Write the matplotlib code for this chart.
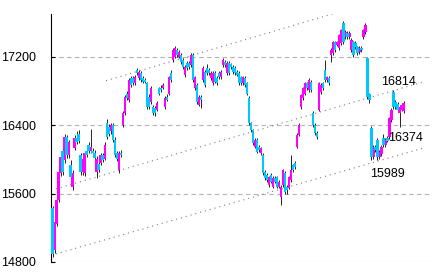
import numpy as np
import matplotlib
matplotlib.use('Agg')
import matplotlib.pyplot as plt

# Velas diarias (apertura, maximo, minimo, cierre)
apertura = [15430, 14940, 15250, 15520, 15840, 16100, 15990, 16260, 16050, 15930,
            15680, 16130, 16250, 16300, 16050, 15850, 15840, 16100, 16170, 16100,
            16100, 16080, 15850, 15950, 15960, 16050, 16010, 16420, 16380, 16330,
            16400, 16230, 16070, 15870, 16080, 16400,
            16540, 16760, 16690, 16950, 16950, 16890, 17040, 16950, 17010, 16950,
            16930, 16890, 16730, 16670, 16610, 16600, 16580, 16830, 16840, 16840,
            16610, 16730, 16770, 17010, 17160, 17200, 17280, 17200, 17220, 17160,
            16990, 17130, 17130, 17100, 17220, 16830, 16870, 16640, 16730,
            16930, 17020, 17070, 17050, 16950, 16890, 17010, 16950, 17010, 16960,
            17100, 17140, 17010, 17130, 17110, 17080, 17070, 17020, 17010, 16960,
            16890, 16950, 16890, 16720, 16420, 16340, 16150, 16230, 16150, 16070,
            16050, 15850, 15820, 15700, 15820, 15680, 15780, 15790, 15680, 15560,
            15700, 15840, 15680, 15670, 15760, 15930, 15960,
            16150, 16290, 16610, 16720, 16770, 16890, 16810, 16910, 16540, 16400,
            16310, 16580, 16790, 16890, 17040, 16930, 16950, 17220, 17240, 17370,
            17340, 17300, 17360, 17600, 17430, 17480, 17430, 17280, 17370, 17360,
            17310, 17250, 17300, 17430, 17490, 17180, 16760, 16370, 16030, 16150,
            16230, 16030, 16060, 16250, 16170, 16250, 16260, 16460, 16790, 16670,
            16650, 16540, 16580, 16560]
maximo = [15460, 15300, 15560, 15880, 16100, 16160, 16300, 16290, 16230, 15990,
          15870, 16290, 16330, 16340, 16080, 16030, 16100, 16130, 16200, 16350,
          16130, 16110, 16040, 15980, 16080, 16080, 16200, 16470, 16410, 16430,
          16430, 16260, 16100, 16100, 16110, 16560,
          16750, 16800, 16950, 16980, 16970, 16990, 17070, 17040, 17030, 16970,
          16950, 16910, 16760, 16860, 16640, 16620, 16680, 16850, 16870, 16890,
          16740, 16760, 16980, 17040, 17300, 17320, 17300, 17280, 17240, 17180,
          17100, 17150, 17150, 17240, 17240, 16980, 16890, 16750, 16750,
          17090, 17040, 17120, 17070, 17030, 17030, 17030, 16970, 17030, 17040,
          17180, 17160, 17150, 17150, 17130, 17100, 17090, 17040, 17030, 16980,
          16980, 16970, 16910, 16740, 16440, 16360, 16250, 16250, 16170, 16150,
          16070, 15870, 15840, 15810, 15840, 15800, 15800, 15810, 15760, 15700,
          15890, 15860, 15700, 15810, 16050, 15950, 15980,
          16310, 16420, 16770, 16850, 16910, 16910, 16950, 16930, 16560, 16420,
          16330, 16910, 16890, 16910, 17160, 16980, 16970, 17300, 17390, 17390,
          17390, 17470, 17530, 17620, 17510, 17500, 17500, 17420, 17390, 17380,
          17330, 17320, 17320, 17530, 17590, 17200, 16780, 16390, 16170, 16170,
          16250, 16110, 16170, 16300, 16250, 16270, 16500, 16600, 16810, 16690,
          16670, 16630, 16660, 16680]
minimo = [14860, 14900, 15220, 15500, 15800, 15820, 15960, 16020, 16020, 15760,
          15640, 16110, 16180, 16190, 15820, 15820, 15800, 16030, 16080, 16070,
          16040, 16000, 15780, 15850, 15940, 15970, 15990, 16240, 16270, 16300,
          16200, 16030, 15980, 15840, 16030, 16380,
          16520, 16700, 16670, 16850, 16870, 16870, 16990, 16930, 16910, 16890,
          16890, 16590, 16590, 16650, 16520, 16510, 16560, 16750, 16790, 16820,
          16590, 16680, 16750, 16910, 17140, 17180, 17200, 17180, 17120, 17060,
          16960, 17050, 17060, 17080, 16910, 16810, 16650, 16620, 16600,
          16910, 16850, 16990, 16990, 16930, 16870, 16890, 16870, 16940, 16940,
          17080, 17080, 16990, 16990, 17060, 17000, 16990, 16970, 16870, 16870,
          16870, 16850, 16750, 16400, 16320, 16170, 16130, 16070, 16090, 16050,
          15820, 15760, 15740, 15680, 15720, 15660, 15720, 15660, 15660, 15470,
          15680, 15600, 15590, 15650, 15740, 15850, 15890,
          16130, 16270, 16590, 16700, 16750, 16810, 16790, 16790, 16380, 16290,
          16240, 16560, 16770, 16810, 16910, 16910, 16870, 17140, 17220, 17260,
          17320, 17280, 17340, 17350, 17410, 17410, 17410, 17260, 17200, 17290,
          17220, 17230, 17260, 17410, 17470, 16710, 16660, 15990, 16010, 16090,
          15990, 16010, 16040, 16150, 16150, 16200, 16240, 16440, 16590, 16590,
          16560, 16380, 16560, 16540]
cierre = [14890, 15270, 15520, 15850, 16030, 15850, 16260, 16050, 16200, 15790,
          15840, 16250, 16200, 16220, 15850, 16000, 16080, 16050, 16100, 16150,
          16070, 16020, 16010, 15880, 16050, 15990, 16170, 16260, 16300, 16400,
          16230, 16050, 16000, 16070, 16050, 16540,
          16730, 16720, 16930, 16870, 16890, 16960, 17010, 17020, 16930, 16910,
          16910, 16610, 16610, 16840, 16540, 16540, 16660, 16770, 16810, 16870,
          16720, 16700, 16960, 16930, 17280, 17300, 17220, 17260, 17140, 17080,
          17080, 17070, 17080, 17220, 16930, 16960, 16670, 16730, 16700,
          17070, 16870, 17010, 17010, 17010, 17010, 16910, 16890, 16960, 17020,
          17160, 17100, 17130, 17010, 17080, 17020, 17010, 16990, 16890, 16890,
          16960, 16870, 16770, 16420, 16340, 16190, 16230, 16090, 16110, 16130,
          15840, 15780, 15760, 15790, 15740, 15780, 15740, 15680, 15740, 15680,
          15870, 15620, 15640, 15790, 15870, 15870, 15910,
          16290, 16400, 16750, 16830, 16890, 16830, 16930, 16810, 16400, 16310,
          16260, 16890, 16870, 16830, 16930, 16960, 16890, 17280, 17370, 17280,
          17370, 17450, 17510, 17370, 17490, 17430, 17480, 17400, 17220, 17310,
          17240, 17300, 17280, 17510, 17570, 16730, 16690, 16030, 16150, 16110,
          16030, 16090, 16150, 16170, 16230, 16220, 16480, 16580, 16610, 16610,
          16580, 16610, 16640, 16660]

# Lineas de tendencia (indice inicial, precio inicial, indice final, precio final)
tendencias = [(26.7, 16920, 151.8, 17786),
              (1.7, 15655, 185.2, 16908),
              (1.7, 14894, 185.2, 16135)]

# Etiquetas de la derecha
etiquetas = ['16814', '16374', '15989']
etiq_x = [172.7, 176.2, 167.0]
etiq_y = [16908, 16252, 15830]

marcas_y = [14800, 15600, 16400, 17200]

fuente = ['Liberation Sans Narrow', 'Liberation Sans', 'DejaVu Sans']

O = np.array(apertura)
H = np.array(maximo)
L = np.array(minimo)
C = np.array(cierre)
x = np.arange(len(O))
sube = C >= O

fig = plt.figure(figsize=(4.34, 2.76), dpi=100)
ax = fig.add_axes([51 / 434, 14 / 276, 379 / 434, 248 / 276])

# lineas de tendencia punteadas
for x0, y0, x1, y1 in tendencias:
    ax.plot([x0, x1], [y0, y1], color='#808080', lw=0.8,
            linestyle=(0, (1, 3.5)), zorder=1)

# mechas negras y cuerpos de color
ax.vlines(x, L, H, color='black', lw=0.6, zorder=2)
base = np.minimum(O, C)
alto = np.maximum(np.abs(C - O), 20)
ax.bar(x[sube], alto[sube], bottom=base[sube], width=1.15,
       color='#ff00ff', linewidth=0, zorder=3, antialiased=False)
ax.bar(x[~sube], alto[~sube], bottom=base[~sube], width=1.15,
       color='#00c8ff', linewidth=0, zorder=3, antialiased=False)

for t, tx, ty in zip(etiquetas, etiq_x, etiq_y):
    ax.text(tx, ty, t, ha='center', va='center', fontsize=9,
            family=fuente, color='black', zorder=4)

ax.set_xlim(-0.75, len(O) - 1 + 13.2)
ax.set_ylim(14800, 17700)
ax.set_yticks(marcas_y)
ax.set_yticklabels([str(v) for v in marcas_y], family=fuente, fontsize=9)
ax.set_xticks([])
ax.tick_params(axis='y', direction='in', length=3, width=0.8, pad=10.8)
ax.yaxis.grid(True, color='#b4b4b4', lw=0.8, linestyle=(0, (4, 3)))
ax.set_axisbelow(True)
for s in ['top', 'right', 'bottom']:
    ax.spines[s].set_visible(False)
ax.spines['left'].set_linewidth(0.8)

fig.savefig('out.png', dpi=100)
